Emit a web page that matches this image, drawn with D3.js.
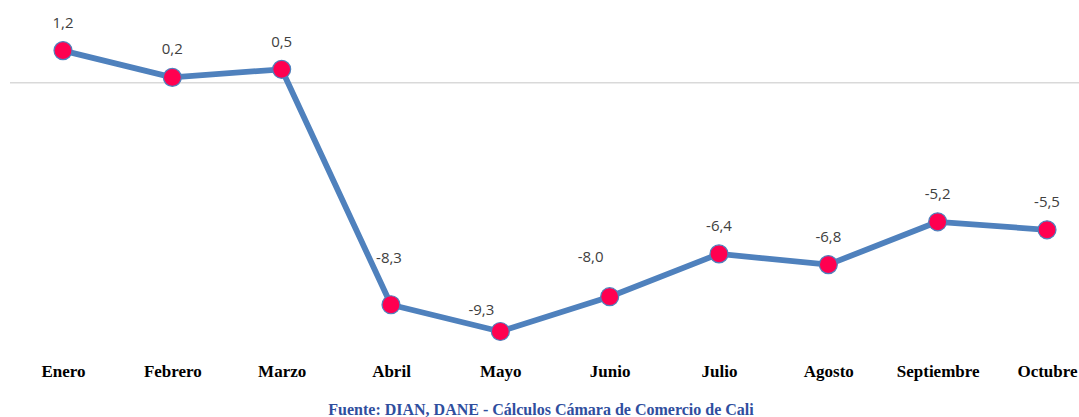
<!DOCTYPE html>
<html><head><meta charset="utf-8">
<script src="https://cdn.jsdelivr.net/npm/d3@7"></script>
<style>html,body{margin:0;padding:0;background:#fff;}svg{display:block;}</style>
</head><body>
<svg id="c" width="1079" height="417"></svg>
<script>
const months = ["Enero","Febrero","Marzo","Abril","Mayo","Junio","Julio","Agosto","Septiembre","Octubre"];
const values = [1.2, 0.2, 0.5, -8.3, -9.3, -8.0, -6.4, -6.8, -5.2, -5.5];
const source = "Fuente: DIAN, DANE - Cálculos Cámara de Comercio de Cali";

// label placement tweaks (px), as in the original layout
const labelDx = [0,0,0,-2,-19,-19,0,0,0,0];
const labelDy = [-28.5,-28.5,-28,-47.5,-21.7,-40,-28.5,-28.5,-28,-28];

const svg = d3.select("#c");
const x = d3.scalePoint().domain(months).range([63, 1047]);
const y = d3.scaleLinear().domain([-10, 2]).range([350.2, 29.2]);
const fmt = v => d3.format(".1f")(v).replace(".", ",").replace("−","-");

// zero gridline
svg.append("line").attr("x1", 10).attr("x2", 1079)
  .attr("y1", y(0)).attr("y2", y(0))
  .attr("stroke", "#d9d9d9").attr("stroke-width", 1.6);

const data = months.map((m,i)=>({m, v: values[i], i}));

svg.append("path").datum(data)
  .attr("fill","none").attr("stroke","#4f81bd").attr("stroke-width",5.8)
  .attr("stroke-linejoin","round")
  .attr("d", d3.line().x(d=>x(d.m)).y(d=>y(d.v)));

svg.selectAll("circle.pt").data(data).join("circle")
  .attr("class","pt")
  .attr("cx", d=>x(d.m)).attr("cy", d=>y(d.v)).attr("r", 9)
  .attr("fill","#ff0050").attr("stroke","#4f81bd").attr("stroke-width",1.2);

svg.selectAll("text.lbl").data(data).join("text")
  .attr("class","lbl")
  .attr("x", d=>x(d.m)+labelDx[d.i])
  .attr("y", d=>y(d.v)+labelDy[d.i]+5.4)
  .attr("text-anchor","middle")
  .attr("font-family","'Open Sans', sans-serif").attr("font-size",15)
  .attr("fill","#404040")
  .text(d=>fmt(d.v));

// category axis labels
const ax = svg.append("g").attr("transform","translate(0,377)")
  .call(d3.axisBottom(x).tickSize(0).tickPadding(0));
ax.select(".domain").remove();
ax.selectAll("text")
  .attr("dy", 0).attr("y", 0)
  .attr("font-family","'Liberation Serif', serif").attr("font-size",17)
  .attr("font-weight","bold").attr("fill","#000");

svg.append("text").attr("x", 541).attr("y", 414.5)
  .attr("text-anchor","middle")
  .attr("font-family","'Liberation Serif', serif").attr("font-size",16)
  .attr("font-weight","bold").attr("fill","#2f4e9e")
  .text(source);
</script>
</body></html>
